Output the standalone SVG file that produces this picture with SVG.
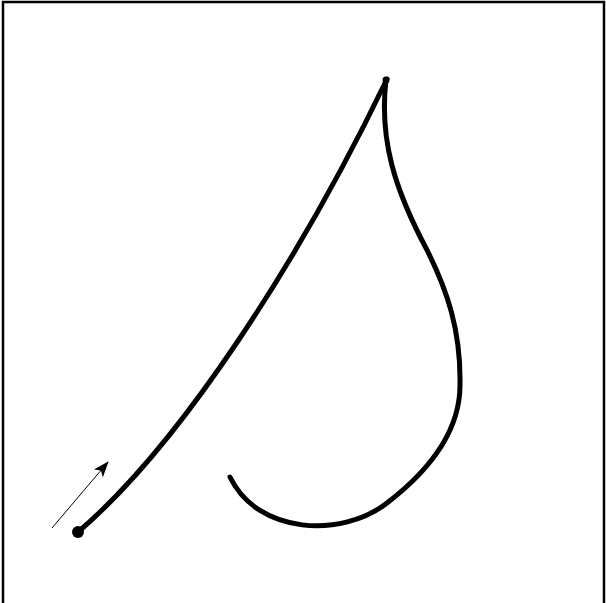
<svg xmlns="http://www.w3.org/2000/svg" width="606" height="603" viewBox="0 0 606 603">
<defs>
<style>
.curve{fill:none;stroke:#000;stroke-width:5;stroke-linecap:round;stroke-linejoin:round}
.thin{fill:none;stroke:#000;stroke-width:1}
.frame{fill:none;stroke:#000;stroke-width:2.5}
</style>
<marker id="ah" viewBox="0 0 16 12" refX="15" refY="6" markerWidth="16" markerHeight="12" markerUnits="userSpaceOnUse" orient="auto">
<path d="M0,0 L16,6 L0,12 L4,6 Z" fill="#000"/>
</marker>
</defs>
<rect width="606" height="603" fill="#fff"/>
<path class="frame" d="M3,603 V2 H604 V603"/>
<g id="curve">
<path class="curve" d="M78,532 C180,445 300,260 387,79"/>
<path class="curve" d="M386,80 C379,140 395,190 427,250 C447,290 461,330 460,385 C460,430 430,470 387,503 C342,538 258,535 230,477"/>
<circle cx="78" cy="532" r="6" fill="#000"/>
<circle cx="386" cy="80" r="3.5" fill="#000"/>
</g>
<g id="arrow">
<line class="thin" x1="52" y1="528" x2="108" y2="462" marker-end="url(#ah)"/>
</g>
</svg>
